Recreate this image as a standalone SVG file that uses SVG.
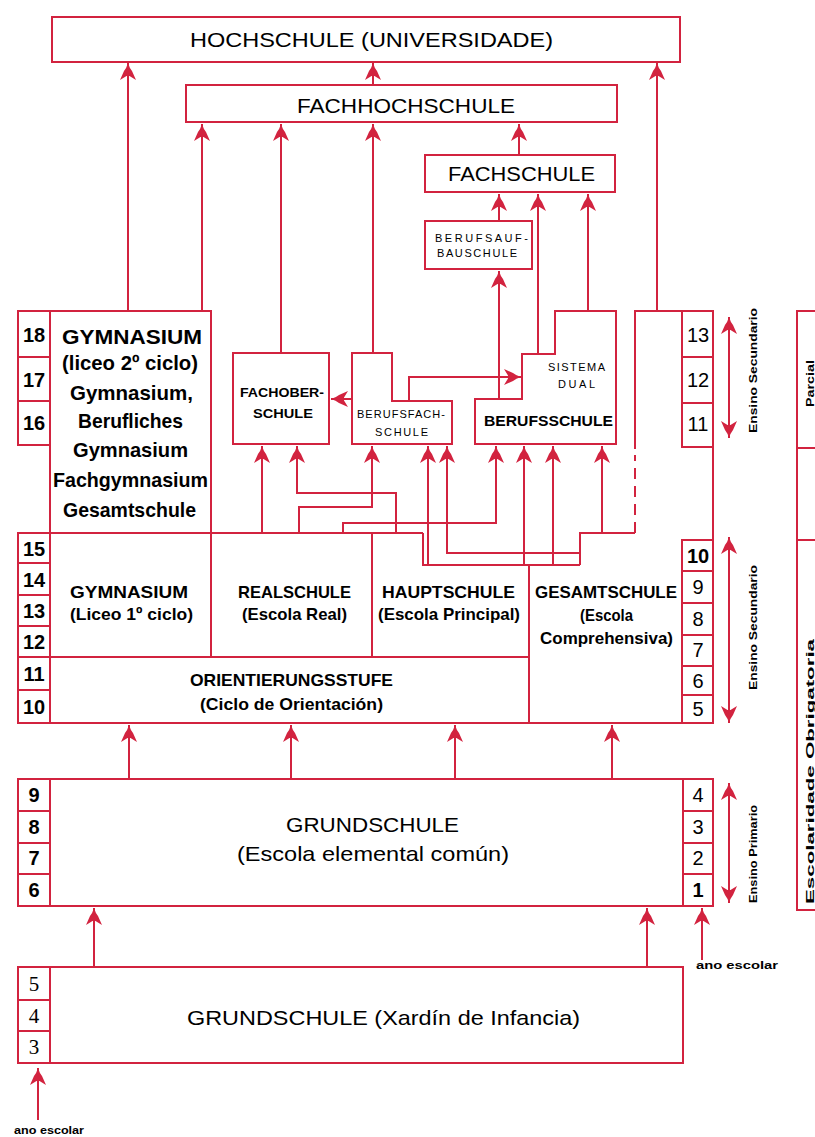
<svg xmlns="http://www.w3.org/2000/svg" width="815" height="1137" viewBox="0 0 815 1137">
<defs>
<marker id="ah" viewBox="-18 -9 19 18" refX="0" refY="0" markerWidth="19" markerHeight="18" markerUnits="userSpaceOnUse" orient="auto">
<path d="M0,0 Q-5,-1.5 -8,-4 L-17,-8 L-13,-1.5 L-13,1.5 L-17,8 L-8,4 Q-5,1.5 0,0 Z" fill="#d2233f"/>
</marker>
<style>
.b{fill:#fff;stroke:#d2233f;stroke-width:2}
.l{fill:none;stroke:#d2233f;stroke-width:2}
.a{fill:none;stroke:#d2233f;stroke-width:2;marker-end:url(#ah)}
.dash{fill:none;stroke:#d2233f;stroke-width:2;stroke-dasharray:11 7}
text{font-family:"Liberation Sans Narrow","Liberation Sans",Arial,sans-serif;fill:#000}
.big{font-size:21px}
.gy{font-size:21px;font-weight:bold}
.mid{font-size:17px;font-weight:bold}
.sm{font-size:11px}
.smb{font-size:12px;font-weight:bold}
.n{font-size:20px;font-weight:bold;text-anchor:middle}
.nr{font-size:20px;text-anchor:middle}
.ns{font-family:"Liberation Serif",serif;font-size:21px;text-anchor:middle}
.v{font-size:11px;font-weight:bold}
.vs{font-size:10px;font-weight:bold}
</style>
</defs>

<g id="connectors">
<path class="a" d="M128,311 V63"/>
<path class="a" d="M202,311 V124"/>
<path class="a" d="M373,85 V63"/>
<path class="a" d="M281,353 V124"/>
<path class="a" d="M373,353 V124"/>
<path class="a" d="M519,155 V124"/>
<path class="a" d="M657,311 V63"/>
<path class="a" d="M499,221 V194"/>
<path class="a" d="M538,354 V194"/>
<path class="a" d="M588,311 V194"/>
<path class="a" d="M499,399 V271"/>
<path class="a" d="M409,401 V377 H521"/>
<path class="a" d="M352,399 H331"/>
<path class="a" d="M262,533 V446"/>
<path class="a" d="M396,533 V493 H297 V446"/>
<path class="a" d="M299,533 V507 H372 V446"/>
<path class="a" d="M428,565 V446"/>
<path class="a" d="M580,553 H447 V446"/>
<path class="a" d="M343,533 V523 H496 V446"/>
<path class="a" d="M524,565 V446"/>
<path class="a" d="M553,565 V446"/>
<path class="a" d="M602,533 V446"/>
<path class="l" d="M580,565 V533 H635"/>
<path class="dash" d="M635,533 V455"/>
<path class="l" d="M635,449 V311 H682"/>
<path class="l" d="M423,533 V565 H580"/>
<path class="a" d="M129,779 V725"/>
<path class="a" d="M291,779 V725"/>
<path class="a" d="M455,779 V725"/>
<path class="a" d="M612,779 V725"/>
<path class="a" d="M94,967 V908"/>
<path class="a" d="M647,967 V908"/>
<path class="a" d="M702,960 V908"/>
<path class="a" d="M38,1120 V1068"/>
<path class="a" d="M729,378 V317"/>
<path class="a" d="M729,378 V438"/>
<path class="a" d="M729,630 V537"/>
<path class="a" d="M729,630 V723"/>
<path class="a" d="M729,843 V783"/>
<path class="a" d="M729,843 V903"/>
</g>

<g id="hochschule">
<rect class="b" x="52" y="17" width="628" height="45"/>
<text class="big" x="190" y="47" textLength="363" lengthAdjust="spacingAndGlyphs">HOCHSCHULE (UNIVERSIDADE)</text>
</g>
<g id="fachhochschule">
<rect class="b" x="186" y="85" width="431" height="37"/>
<text class="big" x="297" y="113" textLength="218" lengthAdjust="spacingAndGlyphs">FACHHOCHSCHULE</text>
</g>
<g id="fachschule">
<rect class="b" x="425" y="155" width="190" height="37"/>
<text class="big" x="448" y="181" textLength="147" lengthAdjust="spacingAndGlyphs">FACHSCHULE</text>
</g>
<g id="berufsaufbauschule">
<rect class="b" x="425" y="221" width="107" height="48"/>
<text class="sm" x="435" y="242" textLength="93" lengthAdjust="spacing">BERUFSAUF-</text>
<text class="sm" x="437" y="257" textLength="80" lengthAdjust="spacing">BAUSCHULE</text>
</g>

<g id="gymnasium-2">
<rect class="b" x="50" y="311" width="161" height="222"/>
<rect class="b" x="18" y="311" width="32" height="46"/>
<rect class="b" x="18" y="357" width="32" height="44"/>
<rect class="b" x="18" y="401" width="32" height="44"/>
<text class="n" x="34" y="342">18</text>
<text class="n" x="34" y="387">17</text>
<text class="n" x="34" y="430">16</text>
<text class="gy" x="62" y="344" textLength="140" lengthAdjust="spacingAndGlyphs">GYMNASIUM</text>
<text class="gy" x="62" y="370" textLength="136" lengthAdjust="spacingAndGlyphs">(liceo 2º ciclo)</text>
<text class="gy" x="70" y="400" textLength="123" lengthAdjust="spacingAndGlyphs">Gymnasium,</text>
<text class="gy" x="78" y="428" textLength="105" lengthAdjust="spacingAndGlyphs">Berufliches</text>
<text class="gy" x="73" y="457" textLength="115" lengthAdjust="spacingAndGlyphs">Gymnasium</text>
<text class="gy" x="53" y="487" textLength="155" lengthAdjust="spacingAndGlyphs">Fachgymnasium</text>
<text class="gy" x="63" y="517" textLength="133" lengthAdjust="spacingAndGlyphs">Gesamtschule</text>
</g>

<g id="fachoberschule">
<rect class="b" x="233" y="353" width="96" height="91"/>
<text class="smb" x="240" y="397" textLength="84" lengthAdjust="spacingAndGlyphs">FACHOBER-</text>
<text class="smb" x="253" y="418" textLength="60" lengthAdjust="spacingAndGlyphs">SCHULE</text>
</g>
<g id="berufsfachschule">
<path class="b" d="M352,353 H392 V401 H452 V444 H352 Z"/>
<text class="sm" x="357" y="418" textLength="88" lengthAdjust="spacing">BERUFSFACH-</text>
<text class="sm" x="375" y="436" textLength="53" lengthAdjust="spacing">SCHULE</text>
</g>
<g id="berufsschule">
<path class="b" d="M475,399 H522 V354 H555 V311 H616 V444 H475 Z"/>
<text class="sm" x="548" y="371" textLength="57" lengthAdjust="spacing">SISTEMA</text>
<text class="sm" x="558" y="388" textLength="37" lengthAdjust="spacing">DUAL</text>
<text x="484" y="426" font-size="15" font-weight="bold" textLength="129" lengthAdjust="spacingAndGlyphs">BERUFSSCHULE</text>
</g>

<g id="grades-upper-right">
<rect class="b" x="682" y="311" width="31" height="46"/>
<rect class="b" x="682" y="357" width="31" height="46"/>
<rect class="b" x="682" y="403" width="31" height="44"/>
<path class="l" d="M713,447 V540"/>
<text class="nr" x="698" y="342">13</text>
<text class="nr" x="698" y="387">12</text>
<text class="nr" x="698" y="431">11</text>
</g>

<g id="gymnasium-1">
<rect class="b" x="50" y="533" width="161" height="124"/>
<text class="mid" x="70" y="598" textLength="118" lengthAdjust="spacingAndGlyphs">GYMNASIUM</text>
<text class="mid" x="70" y="620" textLength="123" lengthAdjust="spacingAndGlyphs">(Liceo 1º ciclo)</text>
</g>
<g id="realschule">
<rect class="b" x="211" y="533" width="161" height="124"/>
<text class="mid" x="238" y="598" textLength="113" lengthAdjust="spacingAndGlyphs">REALSCHULE</text>
<text class="mid" x="242" y="620" textLength="105" lengthAdjust="spacingAndGlyphs">(Escola Real)</text>
</g>
<g id="hauptschule">
<path class="l" d="M372,533 H423 M423,565 H529 V657 H372 V533"/>
<text class="mid" x="382" y="598" textLength="133" lengthAdjust="spacingAndGlyphs">HAUPTSCHULE</text>
<text class="mid" x="378" y="620" textLength="142" lengthAdjust="spacingAndGlyphs">(Escola Principal)</text>
</g>
<g id="gesamtschule">
<path class="l" d="M529,565 V723 H682"/>
<text class="mid" x="535" y="598" textLength="142" lengthAdjust="spacingAndGlyphs">GESAMTSCHULE</text>
<text class="mid" x="580" y="621" textLength="53" lengthAdjust="spacingAndGlyphs">(Escola</text>
<text class="mid" x="540" y="644" textLength="133" lengthAdjust="spacingAndGlyphs">Comprehensiva)</text>
</g>
<g id="orientierungsstufe">
<rect class="b" x="50" y="657" width="479" height="66"/>
<text class="mid" x="190" y="686" textLength="203" lengthAdjust="spacingAndGlyphs">ORIENTIERUNGSSTUFE</text>
<text class="mid" x="200" y="710" textLength="183" lengthAdjust="spacingAndGlyphs">(Ciclo de Orientación)</text>
</g>

<g id="grades-lower-left">
<rect class="b" x="18" y="533" width="32" height="30"/>
<rect class="b" x="18" y="563" width="32" height="32"/>
<rect class="b" x="18" y="595" width="32" height="31"/>
<rect class="b" x="18" y="626" width="32" height="31"/>
<rect class="b" x="18" y="657" width="32" height="33"/>
<rect class="b" x="18" y="690" width="32" height="33"/>
<text class="n" x="34" y="556">15</text>
<text class="n" x="34" y="587">14</text>
<text class="n" x="34" y="618">13</text>
<text class="n" x="34" y="649">12</text>
<text class="n" x="34" y="681">11</text>
<text class="n" x="34" y="714">10</text>
</g>
<g id="grades-lower-right">
<rect class="b" x="682" y="540" width="31" height="31"/>
<rect class="b" x="682" y="571" width="31" height="32"/>
<rect class="b" x="682" y="603" width="31" height="32"/>
<rect class="b" x="682" y="635" width="31" height="31"/>
<rect class="b" x="682" y="666" width="31" height="29"/>
<rect class="b" x="682" y="695" width="31" height="28"/>
<text class="n" x="698" y="563">10</text>
<text class="nr" x="698" y="594">9</text>
<text class="nr" x="698" y="626">8</text>
<text class="nr" x="698" y="657">7</text>
<text class="nr" x="698" y="688">6</text>
<text class="nr" x="698" y="716">5</text>
</g>

<g id="grundschule">
<rect class="b" x="50" y="779" width="633" height="127"/>
<rect class="b" x="18" y="779" width="32" height="32"/>
<rect class="b" x="18" y="811" width="32" height="32"/>
<rect class="b" x="18" y="843" width="32" height="31"/>
<rect class="b" x="18" y="874" width="32" height="32"/>
<rect class="b" x="683" y="779" width="30" height="32"/>
<rect class="b" x="683" y="811" width="30" height="32"/>
<rect class="b" x="683" y="843" width="30" height="31"/>
<rect class="b" x="683" y="874" width="30" height="32"/>
<text class="n" x="34" y="802">9</text>
<text class="n" x="34" y="834">8</text>
<text class="n" x="34" y="865">7</text>
<text class="n" x="34" y="897">6</text>
<text class="nr" x="698" y="802">4</text>
<text class="nr" x="698" y="834">3</text>
<text class="nr" x="698" y="865">2</text>
<text class="n" x="698" y="897">1</text>
<text class="big" x="286" y="832" textLength="173" lengthAdjust="spacingAndGlyphs">GRUNDSCHULE</text>
<text class="big" x="237" y="861" textLength="272" lengthAdjust="spacingAndGlyphs">(Escola elemental común)</text>
</g>

<g id="kindergarten">
<rect class="b" x="50" y="967" width="633" height="96"/>
<rect class="b" x="18" y="967" width="32" height="33"/>
<rect class="b" x="18" y="1000" width="32" height="31"/>
<rect class="b" x="18" y="1031" width="32" height="32"/>
<text class="ns" x="34" y="991">5</text>
<text class="ns" x="34" y="1023">4</text>
<text class="ns" x="34" y="1054">3</text>
<text class="big" x="187" y="1025" textLength="393" lengthAdjust="spacingAndGlyphs">GRUNDSCHULE (Xardín de Infancia)</text>
</g>

<g id="labels">
<text class="v" x="14" y="1134" textLength="70" lengthAdjust="spacingAndGlyphs">ano escolar</text>
<text class="v" x="696" y="969" textLength="82" lengthAdjust="spacingAndGlyphs">ano escolar</text>
<text class="v" transform="translate(753,371) rotate(-90)" x="-62" y="4" textLength="125" lengthAdjust="spacingAndGlyphs">Ensino Secundario</text>
<text class="v" transform="translate(753,628) rotate(-90)" x="-62" y="4" textLength="125" lengthAdjust="spacingAndGlyphs">Ensino Secundario</text>
<text class="v" transform="translate(753,854) rotate(-90)" x="-49" y="4" textLength="98" lengthAdjust="spacingAndGlyphs">Ensino Primario</text>
</g>

<g id="schooling">
<rect class="b" x="797" y="311" width="40" height="599"/>
<path class="l" d="M797,448 H815 M797,540 H815"/>
<text class="vs" transform="translate(810,384) rotate(-90)" x="-23" y="4" textLength="47" lengthAdjust="spacingAndGlyphs">Parcial</text>
<text class="vs" transform="translate(810,772) rotate(-90)" x="-132" y="4" textLength="265" lengthAdjust="spacingAndGlyphs">Escolaridade Obrigatoria</text>
</g>
</svg>
